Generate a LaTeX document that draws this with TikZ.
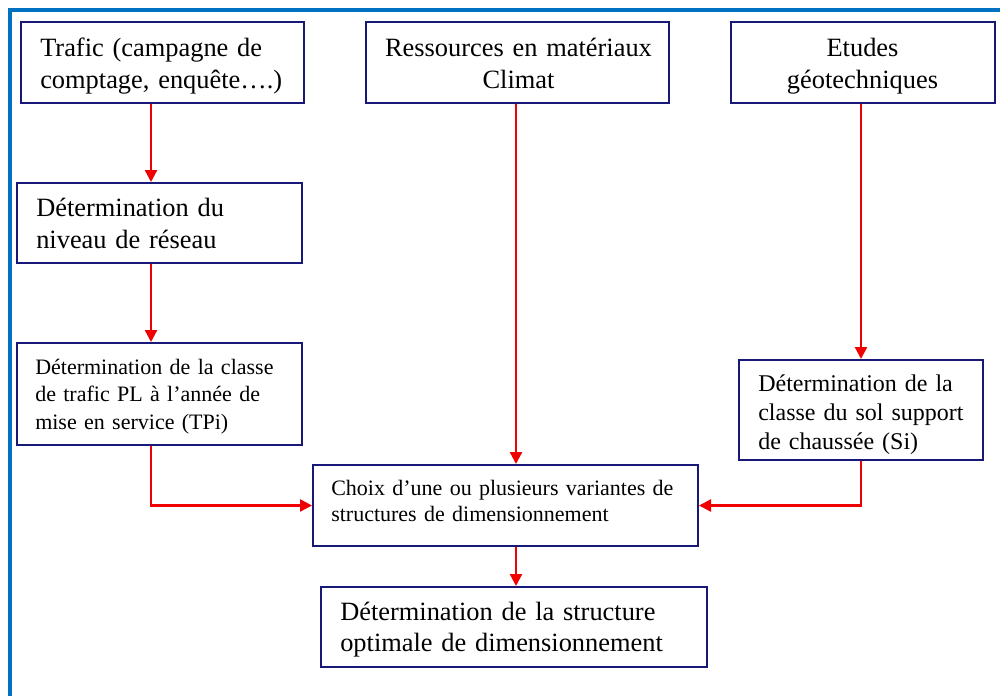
\documentclass[tikz,border=0pt]{standalone}
\usepackage{fontspec}
\setmainfont{Liberation Serif}
\usetikzlibrary{arrows.meta}
\newlength\px
\setlength\px{0.75pt}
\hyphenpenalty=10000
\exhyphenpenalty=10000
\definecolor{framebl}{RGB}{0,112,192}
\definecolor{boxbl}{RGB}{24,24,120}
\definecolor{arrred}{RGB}{240,0,0}
\tikzset{
  box/.style={draw=boxbl, line width=1.5pt, rectangle, inner sep=0pt},
  ltxt/.style={inner sep=0pt, align=left, anchor=base west, text width=360\px},
  ctxt/.style={inner sep=0pt, align=center, anchor=base, text width=300\px},
  big/.style={font=\fontsize{19.8}{24}\selectfont},
  opt/.style={font=\fontsize{19.8}{23.5}\selectfont},
  mid/.style={font=\fontsize{18}{21.9}\selectfont},
  small/.style={font=\fontsize{16.5}{20.6}\selectfont},
  smallc/.style={font=\fontsize{16.5}{19.6}\selectfont},
  arr/.style={draw=arrred, line width=1.8pt, -{Triangle[length=9pt,width=9pt]}},
}
\begin{document}
\begin{tikzpicture}[x=0.75pt,y=-0.75pt]
\useasboundingbox (0,0) rectangle (1000,696);
% frame
\draw[framebl, line width=3pt] (10,696) -- (10,9.5) -- (1000,9.5);
% boxes
\node[box, minimum width=283\px, minimum height=81\px] (trafic) at (162.5,62.5) {};
\node[box, minimum width=303\px, minimum height=81\px] (ress) at (517.5,62.5) {};
\node[box, minimum width=264\px, minimum height=81\px] (etudes) at (863,62.5) {};
\node[box, minimum width=285\px, minimum height=80\px] (niveau) at (159.5,223) {};
\node[box, minimum width=285\px, minimum height=102\px] (classe) at (159.5,394) {};
\node[box, minimum width=244\px, minimum height=100\px] (sol) at (861,410) {};
\node[box, minimum width=385\px, minimum height=81\px] (choix) at (505.5,505.5) {};
\node[box, minimum width=386\px, minimum height=80\px] (optim) at (514,627) {};
% texts
\node[ltxt, big] (trafic-t) at (40,56) {Trafic (campagne de\\comptage, enquête….)};
\node[ctxt, big] (ress-t) at (518.5,56) {Ressources en matériaux\\Climat};
\node[ctxt, big] (etudes-t) at (862.5,56) {Etudes\\géotechniques};
\node[ltxt, big] (niveau-t) at (36,216) {Détermination du\\niveau de réseau};
\node[ltxt, small] (classe-t) at (35,374.5) {Détermination de la classe\\de trafic PL à l’année de\\mise en service (TPi)};
\node[ltxt, mid] (sol-t) at (758,391.5) {Détermination de la\\classe du sol support\\de chaussée (Si)};
\node[ltxt, smallc] (choix-t) at (331,495) {Choix d’une ou plusieurs variantes de\\structures de dimensionnement};
\node[ltxt, opt] (optim-t) at (340,620) {Détermination de la structure\\optimale de dimensionnement};
% column coordinates
\coordinate (cl) at (151,0);
\coordinate (cm) at (516,0);
\coordinate (cr) at (861,0);
% connectors
\draw[arr] (trafic.south -| cl) -- (niveau.north -| cl);
\draw[arr] (niveau.south -| cl) -- (classe.north -| cl);
\draw[arr] (classe.south -| cl) |- (choix.west);
\draw[arr] (ress.south -| cm) -- (choix.north -| cm);
\draw[arr] (etudes.south -| cr) -- (sol.north -| cr);
\draw[arr] (sol.south -| cr) |- (choix.east);
\draw[arr] (choix.south -| cm) -- (optim.north -| cm);
\end{tikzpicture}
\end{document}
